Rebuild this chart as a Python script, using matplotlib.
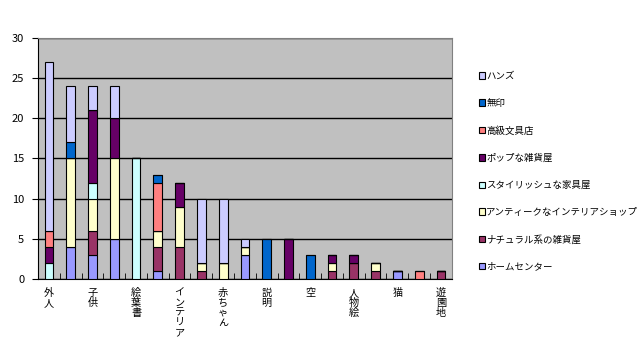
import numpy as np
import matplotlib.pyplot as plt

plt.rcParams['font.family'] = ['Noto Sans CJK JP', 'DejaVu Sans']

# 19 categories; only every other label is shown in the original
categories = ['外人', '', '子供', '', '絵葉書', '', 'インテリア', '', '赤ちゃん', '',
              '説明', '', '空', '', '人物絵', '', '猫', '', '遊園地']

series_names = ['ホームセンター', 'ナチュラル系の雑貨屋', 'アンティークなインテリアショップ',
                'スタイリッシュな家具屋', 'ポップな雑貨屋', '高級文具店', '無印', 'ハンズ']

home_center = [0, 4, 3, 5, 0, 1, 0, 0, 0, 3, 0, 0, 0, 0, 0, 0, 1, 0, 0]
natural     = [0, 0, 3, 0, 0, 3, 4, 1, 0, 0, 0, 0, 0, 1, 2, 1, 0, 0, 1]
antique     = [0, 11, 4, 10, 0, 2, 5, 1, 2, 1, 0, 0, 0, 1, 0, 1, 0, 0, 0]
stylish     = [2, 0, 2, 0, 15, 0, 0, 0, 0, 0, 0, 0, 0, 0, 0, 0, 0, 0, 0]
pop         = [2, 0, 9, 5, 0, 0, 3, 0, 0, 0, 0, 5, 0, 1, 1, 0, 0, 0, 0]
stationery  = [2, 0, 0, 0, 0, 6, 0, 0, 0, 0, 0, 0, 0, 0, 0, 0, 0, 1, 0]
muji        = [0, 2, 0, 0, 0, 1, 0, 0, 0, 0, 5, 0, 3, 0, 0, 0, 0, 0, 0]
hands       = [21, 7, 3, 4, 0, 0, 0, 8, 8, 1, 0, 0, 0, 0, 0, 0, 0, 0, 0]

series = [home_center, natural, antique, stylish, pop, stationery, muji, hands]
colors = ['#9999FF', '#993366', '#FFFFCC', '#CCFFFF', '#660066', '#FF8080', '#0066CC', '#CCCCFF']

fig = plt.figure(figsize=(6.4, 3.62), dpi=100)
ax = fig.add_axes([0.0594, 0.2284, 0.6466, 0.6676])
ax.set_facecolor('#C0C0C0')

x = np.arange(len(categories))
bottom = np.zeros(len(categories))
handles = []
for name, vals, c in zip(series_names, series, colors):
    vals = np.array(vals, dtype=float)
    b = ax.bar(x, vals, 0.4, bottom=bottom, color=c, edgecolor='black', linewidth=0.8,
               label=name, zorder=3)
    handles.append(b)
    bottom += vals

ax.set_xlim(-0.5, len(categories) - 0.5)
ax.set_ylim(0, 30)
ax.set_yticks(range(0, 31, 5))
ax.yaxis.grid(True, color='black', linewidth=1, zorder=1)
ax.tick_params(axis='y', direction='out', length=4, labelsize=8, pad=6)

ax.set_xticks(x[::2])
ax.set_xticklabels(['\n'.join(c) for c in categories[::2]], fontsize=7.3, linespacing=1.0,
                   va='top')
ax.tick_params(axis='x', length=0, pad=6)
ax.set_xticks(np.arange(-0.5, len(categories), 1), minor=True)
ax.tick_params(axis='x', which='minor', direction='in', length=4)

for s in ['top', 'right']:
    ax.spines[s].set_color('#808080')
for s in ['left', 'bottom']:
    ax.spines[s].set_color('black')

leg = fig.legend(handles[::-1], series_names[::-1], loc='upper left',
                 bbox_to_anchor=(0.742, 0.812), frameon=False, fontsize=6.8,
                 handlelength=0.65, handleheight=0.65, handletextpad=0.15,
                 labelspacing=1.9, borderaxespad=0)

fig.savefig('out.png', dpi=100)
